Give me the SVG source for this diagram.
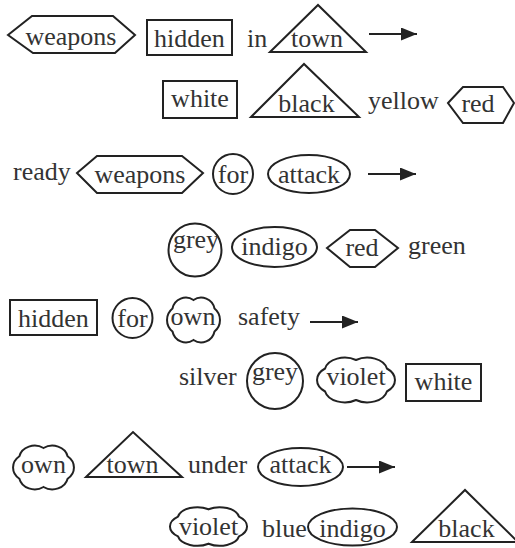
<svg xmlns="http://www.w3.org/2000/svg" width="515" height="548" viewBox="0 0 515 548">
<defs>
<marker id="ah" markerUnits="userSpaceOnUse" markerWidth="17" markerHeight="14" refX="16" refY="6.5" orient="auto">
<path d="M0,0 L16,6.5 L0,13 Z" fill="#222"/>
</marker>
</defs>
<rect width="515" height="548" fill="#fff"/>
<g fill="none" stroke="#222" stroke-width="2">
<g id="r1-weapons"><polygon points="8,35 32,16 113,16 135,35 115,53 33,53"/></g>
<g id="r1-hidden"><rect x="147" y="20" width="85" height="35"/></g>
<g id="r1-town"><polygon points="270,52 318,5 366,52"/></g>
<g id="r2-white"><rect x="163" y="81" width="74" height="37"/></g>
<g id="r2-black"><polygon points="251,117 304,64 359,117"/></g>
<g id="r2-red"><polygon points="448,103 463,87 503,87 514,103 503,123 463,123"/></g>
<g id="r3-weapons"><polygon points="77,173 97,156 182,156 203,173 182,193 97,193"/></g>
<g id="r3-for"><circle cx="233" cy="174" r="20"/></g>
<g id="r3-attack"><ellipse cx="309" cy="174" rx="41" ry="19"/></g>
<g id="r4-grey"><circle cx="195" cy="250" r="26.5"/></g>
<g id="r4-indigo"><ellipse cx="274.5" cy="247" rx="42.5" ry="20"/></g>
<g id="r4-red"><polygon points="327,248 350,230 375,230 398,248 375,267 350,267"/></g>
<g id="r5-hidden"><rect x="10" y="300" width="87" height="35"/></g>
<g id="r5-for"><circle cx="132.5" cy="318" r="20"/></g>
<g id="r5-own"><path d="M193.5,300 A13.6,13.6 0 0 1 214.5,308.5 A14.8,14.8 0 0 1 214.5,331.5 A13.6,13.6 0 0 1 193.5,340 A13.6,13.6 0 0 1 172.5,331.5 A14.8,14.8 0 0 1 172.5,308.5 A13.6,13.6 0 0 1 193.5,300 Z"/></g>
<g id="r6-grey"><circle cx="275" cy="381" r="28"/></g>
<g id="r6-violet"><path d="M356,360 A20,13.6 0 0 1 386.9,368.5 A21.8,14.8 0 0 1 386.9,391.5 A20,13.6 0 0 1 356,400 A20,13.6 0 0 1 325.1,391.5 A21.8,14.8 0 0 1 325.1,368.5 A20,13.6 0 0 1 356,360 Z"/></g>
<g id="r6-white"><rect x="406" y="364" width="75" height="37"/></g>
<g id="r7-own"><path d="M43.5,448 A15.6,13.3 0 0 1 67.6,456.2 A17,14.5 0 0 1 67.6,478.8 A15.6,13.3 0 0 1 43.5,487 A15.6,13.3 0 0 1 19.4,478.8 A17,14.5 0 0 1 19.4,456.2 A15.6,13.3 0 0 1 43.5,448 Z"/></g>
<g id="r7-town"><polygon points="86,477 133,432 182,477"/></g>
<g id="r7-attack"><ellipse cx="300.5" cy="467" rx="42.5" ry="19"/></g>
<g id="r8-violet"><path d="M208.5,509.3 A19.7,11.7 0 0 1 239,516.6 A21.5,12.7 0 0 1 239,536.4 A19.7,11.7 0 0 1 208.5,543.7 A19.7,11.7 0 0 1 178,536.4 A21.5,12.7 0 0 1 178,516.6 A19.7,11.7 0 0 1 208.5,509.3 Z"/></g>
<g id="r8-indigo"><ellipse cx="352.5" cy="527" rx="44.5" ry="18.5"/></g>
<g id="r8-black"><polygon points="412,542 465,490 518,542"/></g>
</g>

<g id="labels" font-size="26" fill="#333" style="font-family:'Liberation Serif',serif">
<text style="font-family:'Liberation Serif',serif" text-anchor="middle" x="71" y="45">weapons</text>
<text style="font-family:'Liberation Serif',serif" text-anchor="middle" x="189.5" y="47">hidden</text>
<text style="font-family:'Liberation Serif',serif" x="247" y="47">in</text>
<text style="font-family:'Liberation Serif',serif" text-anchor="middle" x="317" y="47">town</text>
<text style="font-family:'Liberation Serif',serif" text-anchor="middle" x="200" y="107">white</text>
<text style="font-family:'Liberation Serif',serif" text-anchor="middle" x="306.5" y="112">black</text>
<text style="font-family:'Liberation Serif',serif" x="368" y="109">yellow</text>
<text style="font-family:'Liberation Serif',serif" text-anchor="middle" x="478" y="112">red</text>
<text style="font-family:'Liberation Serif',serif" x="13" y="180">ready</text>
<text style="font-family:'Liberation Serif',serif" text-anchor="middle" x="140" y="183">weapons</text>
<text style="font-family:'Liberation Serif',serif" text-anchor="middle" x="233" y="183">for</text>
<text style="font-family:'Liberation Serif',serif" text-anchor="middle" x="309" y="183">attack</text>
<text style="font-family:'Liberation Serif',serif" text-anchor="middle" x="196" y="248">grey</text>
<text style="font-family:'Liberation Serif',serif" text-anchor="middle" x="274.5" y="255">indigo</text>
<text style="font-family:'Liberation Serif',serif" text-anchor="middle" x="362" y="256">red</text>
<text style="font-family:'Liberation Serif',serif" x="408" y="254">green</text>
<text style="font-family:'Liberation Serif',serif" text-anchor="middle" x="53.5" y="327">hidden</text>
<text style="font-family:'Liberation Serif',serif" text-anchor="middle" x="132.5" y="327">for</text>
<text style="font-family:'Liberation Serif',serif" text-anchor="middle" x="193" y="325">own</text>
<text style="font-family:'Liberation Serif',serif" x="238" y="325">safety</text>
<text style="font-family:'Liberation Serif',serif" x="179" y="385">silver</text>
<text style="font-family:'Liberation Serif',serif" text-anchor="middle" x="275" y="380">grey</text>
<text style="font-family:'Liberation Serif',serif" text-anchor="middle" x="356" y="385">violet</text>
<text style="font-family:'Liberation Serif',serif" text-anchor="middle" x="443.5" y="390">white</text>
<text style="font-family:'Liberation Serif',serif" text-anchor="middle" x="43.5" y="473">own</text>
<text style="font-family:'Liberation Serif',serif" text-anchor="middle" x="132.5" y="473">town</text>
<text style="font-family:'Liberation Serif',serif" x="188" y="473">under</text>
<text style="font-family:'Liberation Serif',serif" text-anchor="middle" x="300.5" y="473">attack</text>
<text style="font-family:'Liberation Serif',serif" text-anchor="middle" x="208.5" y="535">violet</text>
<text style="font-family:'Liberation Serif',serif" x="262" y="537">blue</text>
<text style="font-family:'Liberation Serif',serif" text-anchor="middle" x="352.5" y="537">indigo</text>
<text style="font-family:'Liberation Serif',serif" text-anchor="middle" x="466.5" y="537">black</text>
</g>

<g id="connectors" stroke="#222" stroke-width="2" fill="none">
<line x1="369" y1="34" x2="417" y2="34" marker-end="url(#ah)"/>
<line x1="368" y1="174" x2="416" y2="174" marker-end="url(#ah)"/>
<line x1="310" y1="322" x2="358" y2="322" marker-end="url(#ah)"/>
<line x1="347" y1="467" x2="395" y2="467" marker-end="url(#ah)"/>
</g>
</svg>
